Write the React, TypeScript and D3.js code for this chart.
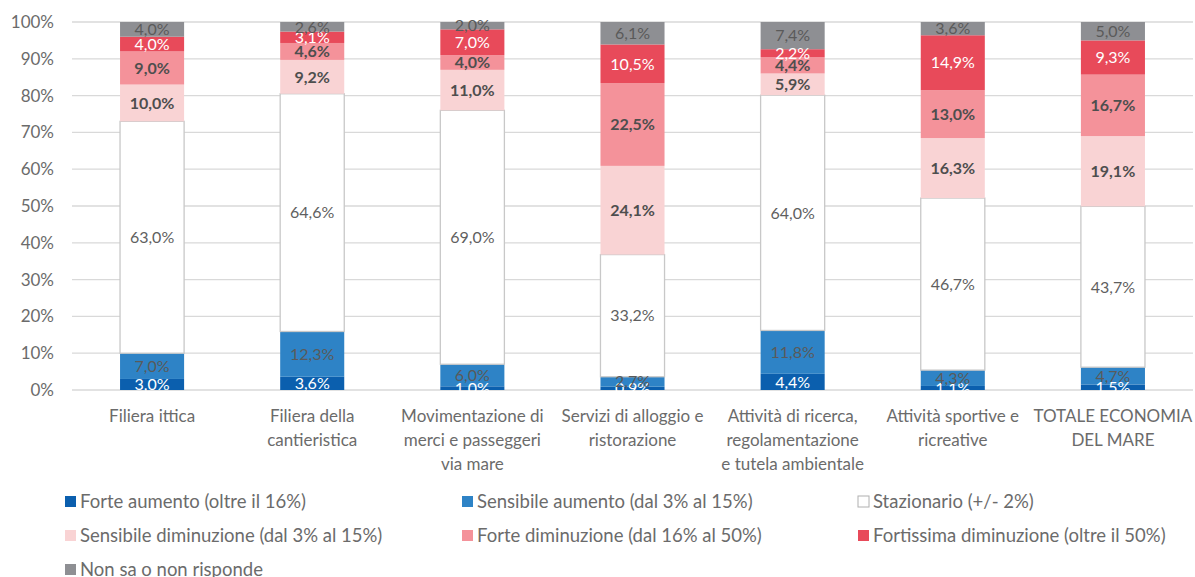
import React from "react";
import * as d3 from "d3";

const categories: string[][] = [
  ["Filiera ittica"],
  ["Filiera della", "cantieristica"],
  ["Movimentazione di", "merci e passeggeri", "via mare"],
  ["Servizi di alloggio e", "ristorazione"],
  ["Attività di ricerca,", "regolamentazione", "e tutela ambientale"],
  ["Attività sportive e", "ricreative"],
  ["TOTALE ECONOMIA", "DEL MARE"],
];

const seriesNames = [
  "Forte aumento (oltre il 16%)",
  "Sensibile aumento (dal 3% al 15%)",
  "Stazionario (+/- 2%)",
  "Sensibile diminuzione (dal 3% al 15%)",
  "Forte diminuzione (dal 16% al 50%)",
  "Fortissima diminuzione (oltre il 50%)",
  "Non sa o non risponde",
];

const forteAumento = [3.0, 3.6, 1.0, 0.9, 4.4, 1.1, 1.5];
const sensibileAumento = [7.0, 12.3, 6.0, 2.7, 11.8, 4.3, 4.7];
const stazionario = [63.0, 64.6, 69.0, 33.2, 64.0, 46.7, 43.7];
const sensibileDiminuzione = [10.0, 9.2, 11.0, 24.1, 5.9, 16.3, 19.1];
const forteDiminuzione = [9.0, 4.6, 4.0, 22.5, 4.4, 13.0, 16.7];
const fortissimaDiminuzione = [4.0, 3.1, 7.0, 10.5, 2.2, 14.9, 9.3];
const nonSa = [4.0, 2.6, 2.0, 6.1, 7.4, 3.6, 5.0];

const yTicks = [0, 10, 20, 30, 40, 50, 60, 70, 80, 90, 100];

const seriesValues = [
  forteAumento,
  sensibileAumento,
  stazionario,
  sensibileDiminuzione,
  forteDiminuzione,
  fortissimaDiminuzione,
  nonSa,
];

const fills = ["#0b5fae", "#2e83c6", "#ffffff", "#f9d3d4", "#f4929a", "#e84a5a", "#8e8f93"];
const strokes = ["none", "none", "#c8c8c8", "none", "none", "none", "none"];
const labelColors = ["#ffffff", "#5a5a5a", "#5f5f5f", "#4e4e4e", "#4e4e4e", "#ffffff", "#5a5a5a"];
const labelWeights = [400, 400, 400, 700, 700, 400, 400];

const W = 1195;
const H = 577;
const FONT = "Lato, 'Open Sans', sans-serif";

export default function App() {
  const plotLeft = 72;
  const plotRight = 1193;
  const yTop = 22;
  const yBottom = 390;

  const keys = seriesNames.map((_, i) => String(i));
  const rows = categories.map((_, ci) => {
    const r: any = { idx: ci };
    keys.forEach((k, si) => (r[k] = seriesValues[si][ci]));
    return r;
  });
  const stack = d3.stack<any>().keys(keys).offset(d3.stackOffsetExpand);
  const stacked = stack(rows);

  const x = d3
    .scaleBand<number>()
    .domain(categories.map((_, i) => i))
    .range([plotLeft, plotRight])
    .paddingInner(0.6)
    .paddingOuter(0.3);
  const y = d3.scaleLinear().domain([0, 1]).range([yBottom, yTop]);
  const yT = d3.scaleLinear().domain([0, 100]).range([yBottom, yTop]);

  const fmt = (v: number) => v.toFixed(1).replace(".", ",") + "%";

  const legendCols = [65, 462, 858];
  const legendRows = [501.5, 535.5, 569.5];

  return (
    <svg
      width={W}
      height={H}
      style={{ position: "absolute", left: 0, top: 0, background: "#fff" }}
      fontFamily={FONT}
    >
      <rect x={0} y={0} width={W} height={H} fill="#fff" />
      {yTicks.map((t) => (
        <g key={t}>
          <line x1={plotLeft} x2={plotRight} y1={yT(t)} y2={yT(t)} stroke="#d9d9d9" strokeWidth={1.3} />
          <text x={54} y={yT(t)} dy="0.35em" textAnchor="end" fontSize={17} fill="#6b6b6b">
            {t}%
          </text>
        </g>
      ))}
      {stacked.map((s, si) => (
        <g key={si}>
          {s.map((d, ci) => (
            <rect
              key={ci}
              x={x(ci)!}
              width={x.bandwidth()}
              y={y(d[1])}
              height={y(d[0]) - y(d[1])}
              fill={fills[si]}
              stroke={strokes[si]}
              strokeWidth={1.3}
            />
          ))}
        </g>
      ))}
      {stacked.map((s, si) => (
        <g key={"l" + si}>
          {s.map((d, ci) => (
            <text
              key={ci}
              x={x(ci)! + x.bandwidth() / 2}
              y={(y(d[0]) + y(d[1])) / 2}
              dy="0.36em"
              textAnchor="middle"
              fontSize={16}
              fill={labelColors[si]}
              fontWeight={labelWeights[si]}
            >
              {fmt(seriesValues[si][ci])}
            </text>
          ))}
        </g>
      ))}
      {categories.map((lines, ci) => (
        <text
          key={ci}
          x={x(ci)! + x.bandwidth() / 2}
          y={422}
          textAnchor="middle"
          fontSize={17}
          fill="#6b6b6b"
        >
          {lines.map((ln, li) => (
            <tspan key={li} x={x(ci)! + x.bandwidth() / 2} dy={li === 0 ? 0 : 24}>
              {ln}
            </tspan>
          ))}
        </text>
      ))}
      {seriesNames.map((name, si) => {
        const lx = legendCols[si % 3];
        const ly = legendRows[Math.floor(si / 3)];
        return (
          <g key={"lg" + si}>
            <rect
              x={lx}
              y={ly - 5.5}
              width={11}
              height={11}
              fill={fills[si]}
              stroke={si === 2 ? "#b0b0b0" : "none"}
              strokeWidth={1}
            />
            <text x={lx + 15} y={ly} dy="0.35em" fontSize={18.5} fill="#6b6b6b">
              {name}
            </text>
          </g>
        );
      })}
    </svg>
  );
}
